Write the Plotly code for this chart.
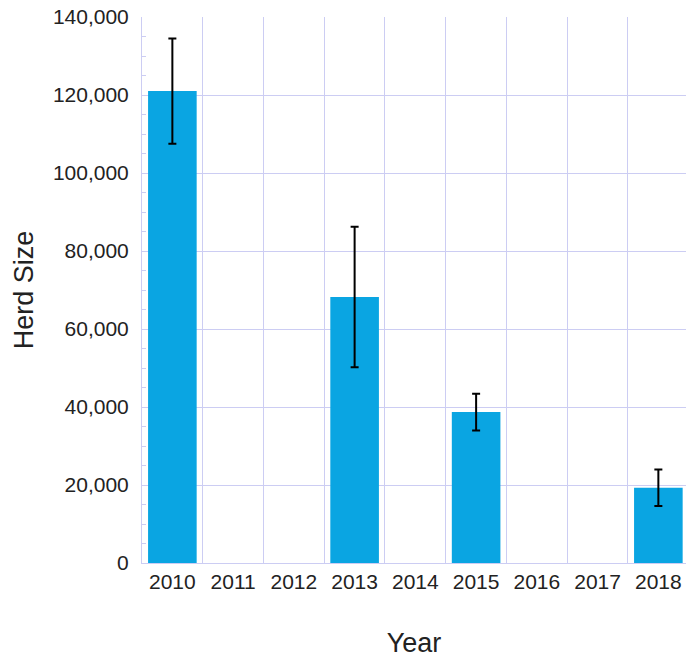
import plotly.graph_objects as go

years = ["2010", "2011", "2012", "2013", "2014", "2015", "2016", "2017", "2018"]
herd_size = [121000, None, None, 68200, None, 38700, None, None, 19300]
herd_err = [13500, None, None, 18000, None, 4700, None, None, 4700]
y_ticks = [0, 20000, 40000, 60000, 80000, 100000, 120000, 140000]

grid = "#cccdf3"
font = "Liberation Sans, Arial, sans-serif"

fig = go.Figure(go.Bar(
    x=years, y=herd_size,
    marker=dict(color="#0aa5e2", line=dict(width=0)),
    width=0.8,
    error_y=dict(type="data", array=herd_err, visible=True,
                 color="black", thickness=2, width=4),
))

fig.update_layout(
    width=686, height=658,
    margin=dict(l=142, r=0, t=17, b=95, autoexpand=False),
    plot_bgcolor="white", paper_bgcolor="white",
    showlegend=False,
    font=dict(family=font, size=21, color="#222222"),
    xaxis=dict(
        type="category", range=[-0.5, 8.455], automargin=False,
        tickson="boundaries", showgrid=True, gridcolor=grid, gridwidth=1,
        ticks="", showline=True, linecolor=grid, linewidth=1,
        tickfont=dict(size=21), ticklabeloverflow="allow",
        title=dict(text="Year", font=dict(size=27, color="#222222"), standoff=40),
        zeroline=False,
    ),
    yaxis=dict(
        range=[0, 140000], tickvals=y_ticks, tickformat=",", automargin=False,
        showgrid=True, gridcolor=grid, gridwidth=1,
        showline=True, linecolor=grid, linewidth=1,
        ticks="inside", ticklen=4, tickcolor=grid,
        minor=dict(dtick=5000, ticks="inside", ticklen=4, tickcolor=grid, showgrid=False),
        ticklabelstandoff=8, ticklabeloverflow="allow",
        tickfont=dict(size=21),
        title=dict(text="Herd Size", font=dict(size=27, color="#222222"), standoff=11),
        zeroline=False,
    ),
)

fig.write_html(
    "out.html",
    config={"displayModeBar": False},
    post_script="document.body.style.margin='0';document.body.style.overflow='hidden';",
)
